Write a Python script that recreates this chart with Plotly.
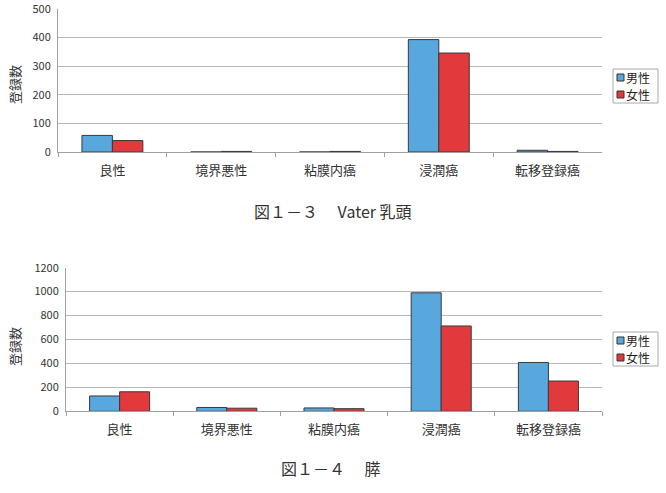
import plotly.graph_objects as go

categories = ["良性", "境界悪性", "粘膜内癌", "浸潤癌", "転移登録癌"]
vater_male = [58, 0, 0, 393, 6]
vater_female = [40, 2, 2, 346, 2]
pancreas_male = [128, 32, 28, 990, 408]
pancreas_female = [163, 26, 22, 713, 253]
series_names = ["男性", "女性"]
caption_top = "図１－３　 Vater 乳頭"
caption_bottom = "図１－４　 膵"
ytitle = "登録数"

W, H = 666, 493
BLUE = "#58A8DE"
RED = "#E2393C"
COLORS = [BLUE, RED]
EDGE = "#3a3a3a"
FONT = "Noto Sans CJK JP, Noto Sans, sans-serif"

def py(px):
    return 1 - px / H

def pxx(px):
    return px / W

fig = go.Figure()
fig.add_trace(go.Bar(x=categories, y=vater_male, name=series_names[0], marker=dict(color=BLUE, line=dict(color=EDGE, width=1)), xaxis="x", yaxis="y"))
fig.add_trace(go.Bar(x=categories, y=vater_female, name=series_names[1], marker=dict(color=RED, line=dict(color=EDGE, width=1)), xaxis="x", yaxis="y"))
fig.add_trace(go.Bar(x=categories, y=pancreas_male, name=series_names[0], marker=dict(color=BLUE, line=dict(color=EDGE, width=1)), xaxis="x2", yaxis="y2"))
fig.add_trace(go.Bar(x=categories, y=pancreas_female, name=series_names[1], marker=dict(color=RED, line=dict(color=EDGE, width=1)), xaxis="x2", yaxis="y2"))

xcommon = dict(showline=True, linecolor="#a0a0a0", linewidth=1, ticks="outside", tickson="boundaries",
               ticklen=4, tickcolor="#a0a0a0", showgrid=False, ticklabelstandoff=6,
               tickfont=dict(size=13, color="#333", family=FONT))
ycommon = dict(showline=True, linecolor="#a0a0a0", linewidth=1, showgrid=True, gridcolor="#b8b8b8",
               gridwidth=1, zeroline=False, ticks="", ticklabelstandoff=4, ticklabeloverflow="allow",
               tickfont=dict(size=11, color="#333", family=FONT))

shapes = []
annotations = []

def add_legend(left, top):
    shapes.append(dict(type="rect", xref="paper", yref="paper", x0=pxx(left), x1=pxx(left + 45),
                       y0=py(top + 34), y1=py(top), line=dict(color="#a8a8a8", width=1), fillcolor="white"))
    for i, (nm, col) in enumerate(zip(series_names, COLORS)):
        cy = top + 8.5 + i * 17
        shapes.append(dict(type="rect", xref="paper", yref="paper", x0=pxx(left + 4), x1=pxx(left + 11),
                           y0=py(cy + 3.5), y1=py(cy - 3.5), line=dict(color="#333", width=1), fillcolor=col))
        annotations.append(dict(text=nm, x=pxx(left + 12), y=py(cy), xref="paper", yref="paper",
                                xanchor="left", yanchor="middle", showarrow=False, borderpad=0,
                                font=dict(size=12, color="#222", family=FONT)))

add_legend(613, 69)
add_legend(613, 332)

def label(text, x, y, size, angle=0):
    return dict(text=text, x=pxx(x), y=py(y), xref="paper", yref="paper", textangle=angle,
                xanchor="center", yanchor="middle", showarrow=False,
                font=dict(size=size, color="#333", family=FONT))

annotations += [
    label(ytitle, 14, 85, 13, -90),
    label(ytitle, 14, 347, 13, -90),
    label(caption_top, 333, 211, 16),
    label(caption_bottom, 331, 468, 16),
]

fig.update_layout(
    width=W, height=H, autosize=False,
    margin=dict(l=0, r=0, t=0, b=0, autoexpand=False),
    paper_bgcolor="white", plot_bgcolor="white",
    barmode="group", bargap=0.44, bargroupgap=0,
    showlegend=False,
    font=dict(family=FONT),
    xaxis=dict(domain=[pxx(58), pxx(602)], anchor="y", **xcommon),
    yaxis=dict(domain=[py(152), py(9)], anchor="x", range=[0, 500], dtick=100, **ycommon),
    xaxis2=dict(domain=[pxx(66), pxx(602)], anchor="y2", **xcommon),
    yaxis2=dict(domain=[py(411.3), py(267.7)], anchor="x2", range=[0, 1200], dtick=200, **ycommon),
    shapes=shapes,
    annotations=annotations,
)

fig.write_html("out.html")
